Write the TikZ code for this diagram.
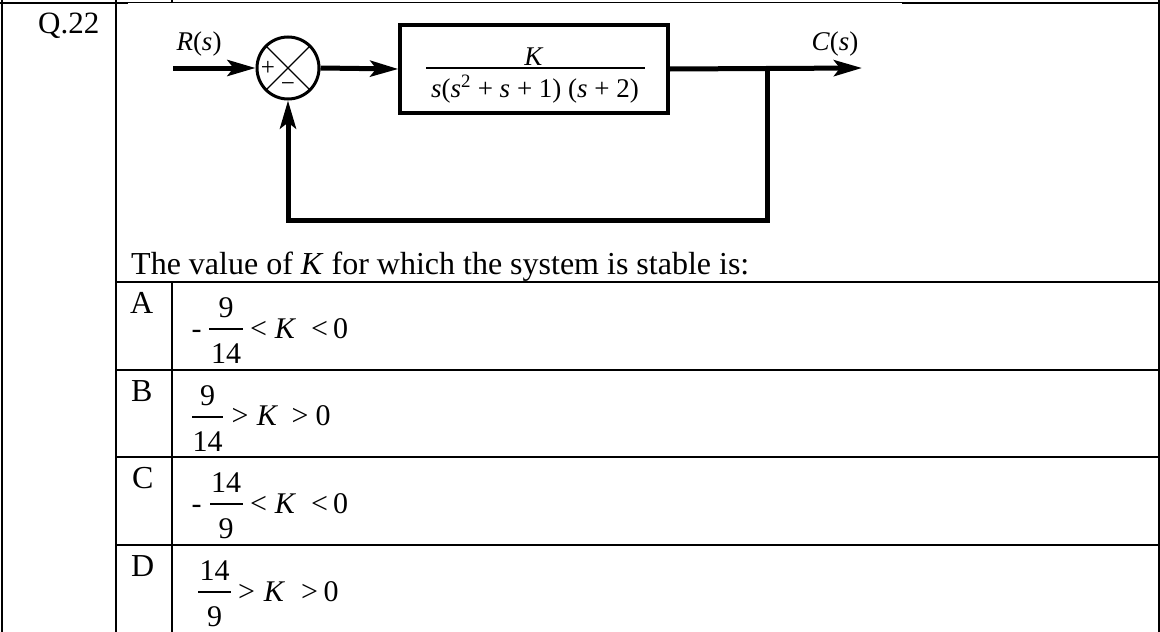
\documentclass[tikz,border=0pt]{standalone}
\usepackage{fontspec}
\setmainfont{Liberation Serif}
\usetikzlibrary{arrows.meta}
\begin{document}
\begin{tikzpicture}[x=1pt,y=-1pt,
  tablerule/.style={line width=2.4pt},
  thinrule/.style={line width=1.4pt},
  sig/.style={line width=5pt},
  sigarrow/.style={sig,-{Stealth[length=28pt,width=16pt,inset=6pt]}},
  qtext/.style={font=\fontsize{32}{36}\selectfont, inner sep=0pt, anchor=base west},
  opt/.style={font=\fontsize{30}{32}\selectfont, inner sep=0pt, anchor=base},
  optK/.style={opt, font=\fontsize{30}{32}\selectfont\itshape},
  dlabel/.style={font=\fontsize{27}{30}\selectfont, inner sep=0pt, anchor=base},
  signlabel/.style={font=\fontsize{25}{27}\selectfont, inner sep=0pt},
  fbar/.style={line width=1.3pt},
]
\useasboundingbox (0,0) rectangle (1160,632);

% ---------- table ----------
\draw[tablerule] (0,3) -- (128,3);
\draw[thinrule] (128,2.5) -- (902,2.5);
\draw[tablerule] (902,3) -- (1160,3);
\draw[tablerule] (2,0) -- (2,632);
\draw[tablerule] (116,0) -- (116,632);
\draw[tablerule] (172,0) -- (172,3);
\draw[tablerule] (172,282) -- (172,632);
\draw[tablerule] (1159,0) -- (1159,632);
\foreach \yy in {282,370,457,545} \draw[tablerule] (116,\yy) -- (1159,\yy);

\node[qtext, font=\fontsize{31}{36}\selectfont] (q) at (38,33) {Q.22};
\node[qtext] (stem) at (131,274) {The value of \textit{K} for which the system is stable is:};
\node[qtext] (la) at (130,313) {A};
\node[qtext] (lb) at (131,401) {B};
\node[qtext] (lc) at (132,488) {C};
\node[qtext] (ld) at (131,576) {D};

% ---------- option A (row top 282) ----------
\node[opt] (am) at (196.5,338) {-};
\node[opt] (an) at (226,317) {9};
\draw[fbar] (209,329) -- (243,329);
\node[opt] (ad) at (226,363) {14};
\node[opt] (ar1) at (258.5,338) {<};
\node[optK] (ak) at (285,338) {K};
\node[opt] (ar2) at (319.5,338) {<};
\node[opt] (a0) at (340.5,338) {0};

% ---------- option B (row top 370) ----------
\node[opt] (bn) at (207.5,405) {9};
\draw[fbar] (192,417) -- (223,417);
\node[opt] (bd) at (207.5,451) {14};
\node[opt] (br1) at (240,425) {>};
\node[optK] (bk) at (267,425) {K};
\node[opt] (br2) at (300,425) {>};
\node[opt] (b0) at (323,425) {0};

% ---------- option C (row top 457) ----------
\node[opt] (cm) at (196.5,513) {-};
\node[opt] (cn) at (226,492) {14};
\draw[fbar] (210,504) -- (243,504);
\node[opt] (cd) at (226,538) {9};
\node[opt] (cr1) at (258.5,513) {<};
\node[optK] (ck) at (285,513) {K};
\node[opt] (cr2) at (319.5,513) {<};
\node[opt] (c0) at (340.5,513) {0};

% ---------- option D (row top 545) ----------
\node[opt] (dn) at (214.5,580) {14};
\draw[fbar] (198,592) -- (231,592);
\node[opt] (dd) at (214.5,626) {9};
\node[opt] (dr1) at (246.5,601) {>};
\node[optK] (dk) at (274,601) {K};
\node[opt] (dr2) at (309.5,601) {>};
\node[opt] (d0) at (331,601) {0};

% ---------- block diagram ----------
\coordinate (rin) at (173,68);
\node[draw, circle, line width=3pt, minimum size=62pt, inner sep=0pt] (sum) at (288,68) {};
\draw[line width=1.2pt] (sum.45) -- (sum.225);
\draw[line width=1.2pt] (sum.135) -- (sum.-45);
\node[signlabel] (plus) at (268,68) {+};
\node[signlabel] (minus) at (288,87) {−};

\node[draw, line width=3.5pt, minimum width=268pt, minimum height=88pt, inner sep=0pt] (G) at (534,69) {};
\node[dlabel] (gk) at (534,65) {\textit{K}};
\draw[line width=1.2pt] (426,68) -- (645,68);
\node[dlabel] (gd) at (535,97) {\textit{s}(\textit{s}\textsuperscript{2} + \textit{s} + 1) (\textit{s} + 2)};

\coordinate (br) at (767,68);
\coordinate (cout) at (862,68);
\coordinate (fb) at (767,220);

\node[dlabel] (rlab) at (199,50) {\textit{R}(\textit{s})};
\node[dlabel] (clab) at (835,50) {\textit{C}(\textit{s})};

\draw[sigarrow] (rin) -- (sum.west);
\draw[sigarrow] (sum.east) -- (G.west);
\draw[sigarrow] (G.east) -- (cout);
\draw[sigarrow] (br) -- (fb) -| (sum.south);
\end{tikzpicture}
\end{document}
